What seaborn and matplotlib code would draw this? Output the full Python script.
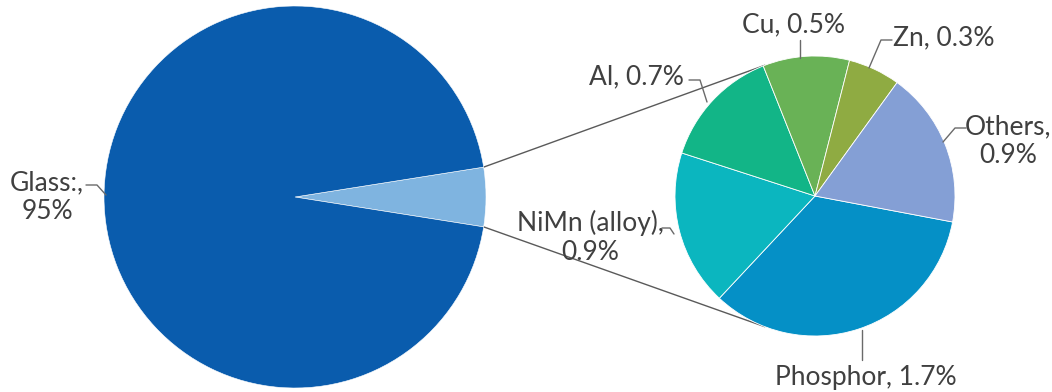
import numpy as np
import matplotlib
matplotlib.use("Agg")
import matplotlib.pyplot as plt
import seaborn as sns

# Composition of the glass waste stream (share of total mass, %)
main_labels = ["Other materials", "Glass:"]
main_values = [5.0, 95.0]

detail_labels = ["Phosphor", "NiMn (alloy)", "Al", "Cu", "Zn", "Others"]
detail_values = [1.7, 0.9, 0.7, 0.5, 0.3, 0.9]

main_colors = ["#7fb4e0", "#0a5cad"]
detail_colors = ["#0590c6", "#0bb6bf", "#12b587", "#69b256", "#8fab42", "#849fd5"]

sns.set_theme(style="white")
plt.rcParams["font.family"] = ["Lato", "DejaVu Sans"]

W, H = 1052, 392
fig = plt.figure(figsize=(W / 100, H / 100), dpi=100)
ax = fig.add_axes([0, 0, 1, 1])

# main pie: the small wedge faces the detail pie
c1, r1 = (295, 195), 191
small_span = 360 * main_values[0] / sum(main_values)
ax.pie(main_values, colors=main_colors, startangle=-small_span / 2,
       center=c1, radius=r1, counterclock=True,
       wedgeprops=dict(edgecolor="white", linewidth=0.4))

# detail pie, drawn clockwise from the right-hand side
c2, r2 = (815, 196), 140
ax.pie(detail_values, colors=detail_colors, startangle=-10.7,
       center=c2, radius=r2, counterclock=False,
       wedgeprops=dict(edgecolor="white", linewidth=0.6))

# pie() resets the view, so fix the canvas afterwards
ax.set_xlim(0, W)
ax.set_ylim(0, H)
ax.set_aspect("equal")
ax.axis("off")

# connector lines between the pies
line_kw = dict(color="#5a5a5a", linewidth=1.0, zorder=0.5)
for sgn in (1, -1):
    a1 = np.deg2rad(sgn * small_span / 2)
    a2 = np.deg2rad(sgn * 111)
    p1 = (c1[0] + r1 * np.cos(a1), c1[1] + r1 * np.sin(a1))
    p2 = (c2[0] + r2 * np.cos(a2), c2[1] + r2 * np.sin(a2))
    ax.plot([p1[0], p2[0]], [p1[1], p2[1]], **line_kw)

txt_kw = dict(fontsize=19, color="#404040", linespacing=1.2)
lead_kw = dict(color="#6a6a6a", linewidth=1.0)

def Y(y):
    return H - y

# Glass label
ax.text(47, Y(197), f"{main_labels[1]},\n{main_values[1]:.0f}%", ha="center", va="center", **txt_kw)
ax.plot([86, 97, 106], [Y(185), Y(185), Y(195)], **lead_kw)

def pct(v):
    return f"{v:.1f}%"

# detail labels
ax.text(794, Y(25), f"{detail_labels[3]}, {pct(detail_values[3])}", ha="center", va="center", **txt_kw)
ax.plot([800, 800], [Y(40), Y(58)], **lead_kw)

ax.text(893, Y(38), f"{detail_labels[4]}, {pct(detail_values[4])}", ha="left", va="center", **txt_kw)
ax.plot([892, 881, 869], [Y(40), Y(40), Y(68)], **lead_kw)

ax.text(684, Y(77), f"{detail_labels[2]}, {pct(detail_values[2])}", ha="right", va="center", **txt_kw)
ax.plot([689, 700, 707], [Y(80), Y(80), Y(102)], **lead_kw)

ax.text(1008, Y(141), f"{detail_labels[5]},\n{pct(detail_values[5])}", ha="center", va="center", **txt_kw)
ax.plot([966, 955, 943], [Y(128), Y(128), Y(142)], **lead_kw)

ax.text(590, Y(237), f"{detail_labels[1]},\n{pct(detail_values[1])}", ha="center", va="center", **txt_kw)
ax.plot([662, 670, 674], [Y(228), Y(228), Y(234)], **lead_kw)

ax.text(866, Y(377), f"{detail_labels[0]}, {pct(detail_values[0])}", ha="center", va="center", **txt_kw)
ax.plot([862, 862], [Y(330), Y(360)], **lead_kw)

fig.savefig("out.png", dpi=100)
